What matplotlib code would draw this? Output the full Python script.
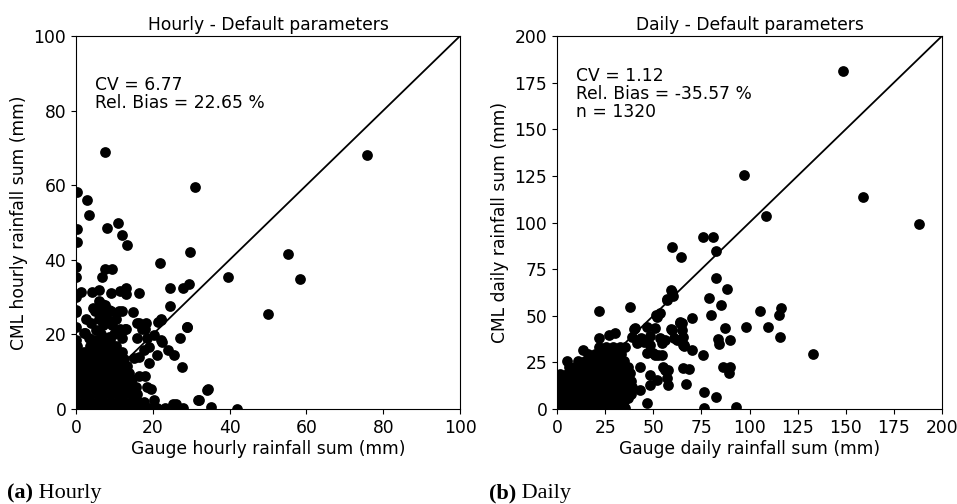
import matplotlib
matplotlib.use("Agg")
import matplotlib.pyplot as plt
import numpy as np

plt.rcParams['font.family'] = ['DejaVu Sans']
plt.rcParams['font.size'] = 12.3

# ---------------- Hourly panel data ----------------
hourly_title = "Hourly - Default parameters"
hourly_xlabel = "Gauge hourly rainfall sum (mm)"
hourly_ylabel = "CML hourly rainfall sum (mm)"
hourly_ticks = [0, 20, 40, 60, 80, 100]
hourly_stats = "CV = 6.77\nRel. Bias = 22.65 %"

# dense core (rows)
hourly_core_rows = [
    (0.3, [0.2, 1.8, 3.5, 5.2, 7.0, 8.6, 10.3, 12.1, 13.8, 15.5, 17.2, 18.9, 21.0, 23.1]),
    (2.0, [0.3, 2.1, 3.9, 5.6, 7.4, 9.1, 10.9, 12.6, 14.4, 16.2, 17.6]),
    (3.9, [0.1, 1.9, 3.6, 5.4, 7.1, 8.9, 10.6, 12.4, 14.2, 16.0]),
    (5.8, [0.4, 2.2, 3.9, 5.7, 7.5, 9.2, 11.0, 12.7, 14.5, 15.6]),
    (7.7, [0.2, 1.9, 3.7, 5.5, 7.2, 9.0, 10.8, 12.5, 14.1]),
    (9.6, [0.3, 2.0, 3.8, 5.6, 7.3, 9.1, 10.9, 12.6, 13.7]),
    (11.5, [0.1, 1.8, 3.6, 5.3, 7.1, 8.8, 10.6, 12.3, 13.2]),
    (13.4, [0.4, 2.1, 3.9, 5.6, 7.4, 9.2, 10.9, 12.4]),
    (15.3, [0.2, 2.0, 3.7, 5.5, 7.2, 9.0, 10.7, 11.9]),
    (17.0, [0.3, 3.6, 5.3, 7.0, 8.8, 10.3]),
    (18.5, [0.1, 4.6, 6.8, 8.9]),
]

hourly_gauge = [7.6, 75.9, 31.0, 0.2, 2.9, 3.5, 0.2, 8.0, 11.0, 12.0, 0.2, 13.4, 29.7, 55.1,
                0.0, 0.0, 22.0, 39.6, 58.4, 50.0, 29.3, 27.9, 24.5, 24.5, 22.2, 29.0, 27.2,
                27.6, 22.4, 34.2, 32.1, 35.2, 42.0, 20.3, 25.2, 26.0, 27.8, 6.1, 4.2, 1.3,
                16.5, 9.2, 13.1, 13.1, 11.4, 7.6, 9.5, 6.8, 14.9, 2.6, 2.4, 17.3, 13.1, 11.4,
                18.2, 16.0, 0.0, 5.0, 6.9, 9.1, 11.3, 12.1, 5.9, 8.2, 10.4, 16.3, 18.0, 21.3,
                22.1, 28.8, 2.2, 5.2, 8.7, 12.8, 12.1, 16.0, 18.6, 20.4, 22.1, 23.9, 25.6,
                21.0, 19.1, 17.8, 16.5, 15.2, 18.9, 16.5, 18.0, 18.4, 19.5, 14.5, 14.8, 31.9,
                34.3, 0.1, 0.1, 0.1, 4.5, 6.0, 7.5, 8.5, 7.0, 9.5, 4.0, 6.5, 3.5, 10.0, 6.9]
hourly_cml = [69.0, 68.0, 59.4, 58.3, 56.0, 52.0, 48.3, 48.4, 49.9, 46.6, 44.8, 43.9, 42.0, 41.6,
              38.2, 35.3, 39.2, 35.5, 34.9, 25.6, 33.5, 32.4, 32.5, 27.6, 23.9, 21.9, 19.0,
              11.3, 18.0, 5.1, 2.3, 0.6, 0.0, 2.4, 1.3, 1.4, 0.3, 31.9, 31.5, 31.5,
              31.0, 31.0, 32.5, 30.8, 31.6, 37.5, 37.5, 35.3, 26.1, 24.0, 20.5, 21.4, 21.4, 21.4,
              23.0, 23.0, 26.0, 26.2, 26.2, 26.2, 26.2, 26.2, 24.1, 24.1, 24.1, 23.1, 21.4, 23.4,
              24.0, 22.1, 20.3, 21.2, 19.4, 21.4, 19.0, 19.0, 19.0, 19.8, 18.5, 15.8, 14.5,
              14.5, 16.7, 15.8, 13.9, 13.6, 12.2, 8.8, 8.8, 6.0, 5.3, 8.0, 6.0, 2.4,
              5.3, 30.1, 26.5, 21.9, 27.0, 29.0, 28.0, 26.5, 22.5, 22.5, 23.0, 20.0, 19.0, 20.0, 28.2]

# ---------------- Daily panel data ----------------
daily_title = "Daily - Default parameters"
daily_xlabel = "Gauge daily rainfall sum (mm)"
daily_ylabel = "CML daily rainfall sum (mm)"
daily_ticks = [0, 25, 50, 75, 100, 125, 150, 175, 200]
daily_stats = "CV = 1.12\nRel. Bias = -35.57 %\nn = 1320"

daily_core_rows = [
    (0.8, [0.5, 4.0, 7.5, 11.0, 14.5, 18.0, 21.5, 25.0, 28.5, 32.0, 35.5]),
    (4.4, [0.3, 3.8, 7.3, 10.8, 14.3, 17.8, 21.3, 24.8, 28.3, 31.8, 35.0]),
    (8.0, [0.6, 4.1, 7.6, 11.1, 14.6, 18.1, 21.6, 25.1, 28.6, 32.1, 35.6, 38.5]),
    (11.6, [0.4, 3.9, 7.4, 10.9, 14.4, 17.9, 21.4, 24.9, 28.4, 31.9, 35.4, 39.0]),
    (15.2, [0.2, 3.7, 7.2, 10.7, 14.2, 17.7, 21.2, 24.7, 28.2, 31.7, 35.2, 38.6]),
    (18.8, [1.5, 5.0, 8.5, 12.0, 15.5, 19.0, 22.5, 26.0, 29.5, 33.0, 36.5]),
    (22.4, [6.0, 9.5, 13.0, 16.5, 20.0, 23.5, 27.0, 30.5, 34.0, 37.0]),
    (26.0, [11.0, 14.5, 18.0, 21.5, 25.0, 28.5, 32.0, 35.0]),
    (29.6, [16.0, 19.5, 23.0, 26.5, 30.0, 33.5]),
    (33.2, [22.0, 25.5, 29.0, 32.5, 35.5]),
]

daily_gauge = [148.4, 97.2, 159.0, 108.6, 188.2, 75.7, 81.2, 59.6, 82.4, 64.2, 82.4, 88.3, 78.9,
               85.2, 70.3, 79.8, 105.5, 116.2, 115.5, 98.4, 109.8, 115.7, 87.2, 83.5, 84.0,
               90.0, 132.8, 75.7, 70.0, 65.6, 64.8, 64.8, 65.3, 68.8, 86.1, 89.9, 89.1, 66.9,
               76.4, 82.4, 76.4, 93.0, 21.6, 37.9, 5.0, 13.7, 21.6, 27.0, 30.0, 40.5, 46.6,
               51.8, 53.5, 57.0, 59.6, 60.2, 53.5, 56.1, 59.6, 63.9, 65.6, 62.2, 66.2, 57.8,
               55.2, 56.9, 46.6, 32.7, 37.1, 48.3, 51.8, 48.3, 43.1, 46.6, 50.0, 52.6, 43.1,
               37.9, 45.0, 48.3, 38.8, 41.4, 40.0, 43.7, 48.3, 50.9, 54.3, 50.9, 54.3, 56.1,
               57.8, 51.6, 59.1, 57.0, 64.0, 59.1, 60.8, 66.1, 33.8, 37.1]
daily_cml = [181.4, 125.7, 113.5, 103.6, 99.3, 92.0, 92.0, 87.0, 84.5, 81.7, 70.4, 64.3, 59.5,
             55.8, 49.0, 50.2, 52.5, 54.0, 50.2, 44.0, 44.0, 38.4, 43.4, 37.4, 34.7,
             37.2, 29.3, 28.7, 31.8, 34.3, 45.9, 42.3, 21.8, 21.3, 22.5, 22.5, 19.1, 13.2,
             9.1, 6.6, 0.4, 0.9, 52.7, 54.5, 25.7, 31.8, 37.9, 39.5, 40.6, 43.3, 44.1,
             49.5, 51.3, 58.4, 62.9, 60.6, 37.9, 37.0, 42.4, 45.9, 38.8, 37.0, 34.3, 20.9,
             22.7, 16.4, 3.4, 2.1, 5.7, 12.9, 15.5, 18.2, 10.2, 29.8, 29.8, 29.0, 22.7,
             19.1, 36.1, 34.3, 38.8, 35.2, 42.7, 37.9, 39.4, 43.3, 35.2, 29.0, 29.0, 20.9,
             12.9, 50.4, 63.8, 58.8, 46.8, 42.7, 37.9, 33.8, 6.6, 7.0]


def expand(rows, xs, ys):
    gx, gy = list(xs), list(ys)
    for yv, xrow in rows:
        for xv in xrow:
            gx.append(xv)
            gy.append(yv)
    return np.array(gx), np.array(gy)


fig = plt.figure(figsize=(9.57, 5.04), dpi=100)
ax1 = fig.add_axes([76 / 957, 95 / 504, 384 / 957, 373 / 504])
ax2 = fig.add_axes([557 / 957, 95 / 504, 385 / 957, 373 / 504])

panels = [
    (ax1, hourly_core_rows, hourly_gauge, hourly_cml, 100, hourly_ticks, hourly_title,
     hourly_xlabel, hourly_ylabel, hourly_stats),
    (ax2, daily_core_rows, daily_gauge, daily_cml, 200, daily_ticks, daily_title,
     daily_xlabel, daily_ylabel, daily_stats),
]

for ax, rows, gx, gy, lim, ticks, title, xl, yl, stats in panels:
    x, y = expand(rows, gx, gy)
    ax.plot([0, lim], [0, lim], color='black', lw=1.3, zorder=1)
    ax.scatter(x, y, s=60, c='black', linewidths=0, zorder=2)
    ax.set_xlim(0, lim)
    ax.set_ylim(0, lim)
    ax.set_xticks(ticks)
    ax.set_yticks(ticks)
    ax.set_title(title, fontsize=12.3, pad=4)
    ax.set_xlabel(xl, labelpad=2)
    ax.set_ylabel(yl, labelpad=4)
    ax.text(0.05, 0.845, stats, transform=ax.transAxes, va='center', ha='left',
            linespacing=1.0)

# captions
serif = ['Liberation Serif', 'DejaVu Serif']
fig.canvas.draw()
r = fig.canvas.get_renderer()
for xpx, lab, word in [(7, '(a)', ' Hourly'), (489, '(b)', ' Daily')]:
    t = fig.text(xpx / 957, 1 - 498 / 504, lab, family=serif, fontweight='bold', fontsize=16,
                 va='baseline')
    bb = t.get_window_extent(renderer=r)
    fig.text(bb.x1 / fig.bbox.width, 1 - 498 / 504, word, family=serif, fontsize=16,
             va='baseline')

fig.savefig('out.png', dpi=100)
